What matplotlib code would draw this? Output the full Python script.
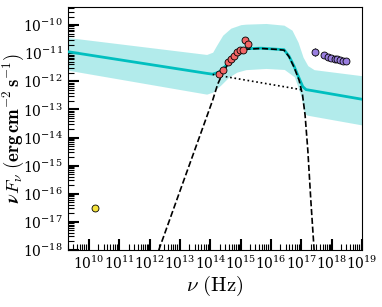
import numpy as np
import matplotlib
matplotlib.use('Agg')
import matplotlib.pyplot as plt
from matplotlib.ticker import LogLocator, NullFormatter

plt.rcParams['mathtext.fontset'] = 'cm'
plt.rcParams['font.family'] = 'serif'
plt.rcParams['font.serif'] = ['DejaVu Serif']

# values are log10(nu / Hz) and log10(nuFnu / erg cm^-2 s^-1)
radio_lognu = [10.18]
radio_logf = [-16.52]

opt_lognu = [14.28, 14.41, 14.59, 14.69, 14.78, 14.86, 14.97, 15.08, 15.14, 15.23]
opt_logf = [-11.75, -11.58, -11.31, -11.21, -11.09, -10.96, -10.88, -10.88, -10.53, -10.67]

xray_lognu = [17.43, 17.74, 17.89, 17.98, 18.09, 18.18, 18.27, 18.37, 18.47]
xray_logf = [-10.97, -11.07, -11.13, -11.17, -11.20, -11.22, -11.25, -11.27, -11.29]
xray_err = [0.14, 0.05, 0.05, 0.05, 0.05, 0.05, 0.05, 0.06, 0.07]

total_lognu = [9.288, 13.897, 14.073, 14.272, 14.404, 14.603, 14.801, 15.0, 15.232, 15.662,
               16.159, 16.424, 16.589, 16.755, 16.921, 17.043, 17.152, 17.318, 19.03]
total_logf = [-10.943, -11.719, -11.744, -11.673, -11.566, -11.317, -11.068, -10.907, -10.836, -10.819,
              -10.854, -10.872, -11.103, -11.459, -11.886, -12.189, -12.295, -12.324, -12.644]

band_hi_lognu = [9.288, 13.874, 14.073, 14.205, 14.404, 14.669, 15.0, 15.166, 15.828, 16.424,
                 16.689, 16.887, 17.053, 17.209, 17.417, 19.03]
band_hi_logf = [-10.438, -11.043, -10.961, -10.712, -10.356, -10.107, -9.982, -9.964, -9.94, -10.0,
                -10.178, -10.605, -11.139, -11.441, -11.584, -11.804]

band_lo_lognu = [9.288, 13.874, 14.073, 14.338, 14.603, 14.868, 15.166, 15.828, 16.434, 16.765,
                 16.921, 16.987, 17.096, 17.185, 19.03]
band_lo_logf = [-11.601, -12.456, -12.384, -12.135, -11.851, -11.673, -11.584, -11.541, -11.577, -11.84,
                -12.313, -12.552, -13.142, -13.203, -13.559]

pl_lognu = [14.073, 17.086]
pl_logf = [-11.754, -12.313]

bump_lognu = [12.295, 13.123, 13.619, 14.073, 14.238, 14.404, 14.603, 14.801, 15.0, 15.232, 15.662,
              16.159, 16.424, 16.589, 16.755, 16.921, 17.036, 17.119, 17.209, 17.308, 17.417]
bump_logf = [-18.007, -15.516, -14.032, -12.669, -12.1, -11.708, -11.335, -11.085, -10.925, -10.854, -10.829,
             -10.861, -10.89, -11.121, -11.495, -11.957, -12.491, -13.203, -14.448, -16.228, -18.007]


def p(a):
    return 10.0 ** np.asarray(a)


fig = plt.figure(figsize=(3.82, 3.07), dpi=100)
ax = fig.add_axes([0.177, 0.186, 0.771, 0.79])

# uncertainty band: put both edges on a common grid
grid = np.union1d(band_hi_lognu, band_lo_lognu)
hi = np.interp(grid, band_hi_lognu, band_hi_logf)
lo = np.interp(grid, band_lo_lognu, band_lo_logf)
ax.fill_between(p(grid), p(lo), p(hi), color='c', alpha=0.3, lw=0)

ax.plot(p(total_lognu), p(total_logf), color='c', lw=2, zorder=3)
ax.plot(p(pl_lognu), p(pl_logf), 'k:', lw=1.2, zorder=3)
ax.plot(p(bump_lognu), p(bump_logf), 'k--', lw=1.2, zorder=3)

ax.plot(p(radio_lognu), p(radio_logf), 'o', color='#f5e23c', mec='k', mew=0.6, ms=5, zorder=5)
ax.plot(p(opt_lognu), p(opt_logf), 'o', color='#f26666', mec='k', mew=0.6, ms=5, zorder=5)
xf = p(xray_logf)
yerr = [xf - p(np.asarray(xray_logf) - np.asarray(xray_err)),
        p(np.asarray(xray_logf) + np.asarray(xray_err)) - xf]
ax.errorbar(p(xray_lognu), xf, yerr=yerr, fmt='o', color='#9a7fe0', mec='k', mew=0.6, ms=5,
            ecolor='k', elinewidth=0.8, capsize=0, zorder=5)

ax.set_xscale('log')
ax.set_yscale('log')
ax.set_xlim(1.95e9, 1e19)
ax.set_ylim(1e-18, 4.3e-10)

ax.xaxis.set_major_locator(LogLocator(base=10, numticks=20))
ax.xaxis.set_minor_locator(LogLocator(base=10, subs=np.arange(2, 10), numticks=100))
ax.xaxis.set_minor_formatter(NullFormatter())
ax.yaxis.set_major_locator(LogLocator(base=10, numticks=20))
ax.yaxis.set_minor_locator(LogLocator(base=10, subs=np.arange(2, 10), numticks=100))
ax.yaxis.set_minor_formatter(NullFormatter())
ax.tick_params(which='major', direction='in', length=8, width=1.5, labelsize=10)
ax.tick_params(which='minor', direction='in', length=4, width=0.8)

ax.set_xlabel(r'$\nu\ \mathrm{(Hz)}$', fontsize=15, labelpad=1)
ax.set_ylabel(r'$\boldsymbol{\nu F_\nu}\ \mathbf{(erg\,cm^{-2}\,s^{-1})}$', fontsize=13.5)
ax.yaxis.set_label_coords(-0.142, 0.5)

fig.savefig('out.png', dpi=100)
